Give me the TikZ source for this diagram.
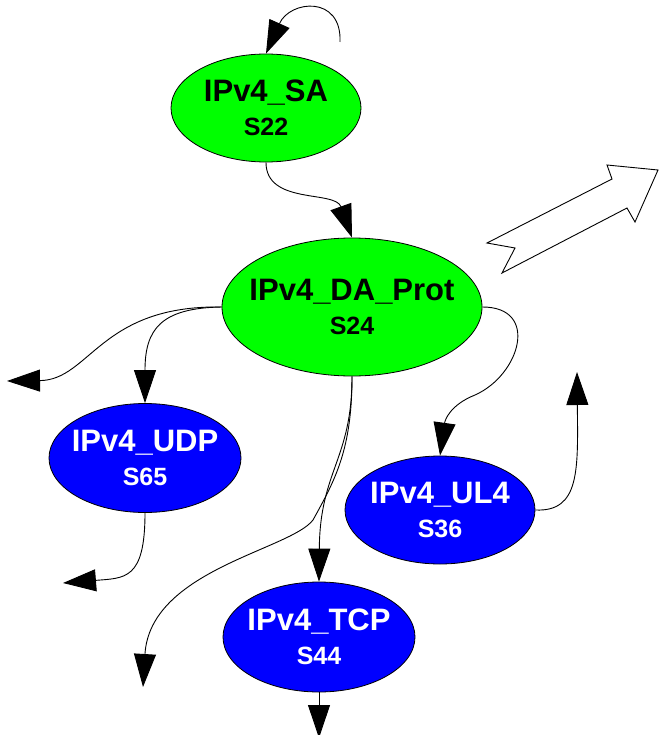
\documentclass[tikz,border=0pt]{standalone}
\usepackage{fontspec}
\setmainfont{Liberation Sans}
\usetikzlibrary{shapes.geometric,arrows.meta}

\tikzset{
  state/.style={ellipse, draw=black, line width=0.8pt, inner sep=0pt, align=center,
    font=\bfseries\fontsize{31}{34}\selectfont},
  upper/.style={state, fill=green, text=black},
  lower/.style={state, fill=blue, text=white},
  edge/.style={black, line width=0.9pt, -{Triangle[length=33pt,width=22pt]}},
}
% zero-width lines, so the ellipse keeps its given size
\newcommand{\statelabel}[2]{\makebox[0pt]{#1}\\\makebox[0pt]{\fontsize{25}{34}\selectfont #2}}

\begin{document}
\begin{tikzpicture}[x=1pt, y=-1pt]
	  \useasboundingbox (0,0) rectangle (659,735);
	  % states
	  \node[upper, minimum width=190pt, minimum height=108pt] (SA) at (266,108) {\statelabel{IPv4\_SA}{S22}};
	  \node[upper, minimum width=260pt, minimum height=138pt] (DA) at (352,307) {\statelabel{IPv4\_DA\_Prot}{S24}};
	  \node[lower, minimum width=192pt, minimum height=109pt] (UDP) at (145,458) {\statelabel{IPv4\_UDP}{S65}};
	  \node[lower, minimum width=190pt, minimum height=108pt] (UL4) at (440,510) {\statelabel{IPv4\_UL4}{S36}};
	  \node[lower, minimum width=192pt, minimum height=110pt] (TCP) at (319,637) {\statelabel{IPv4\_TCP}{S44}};
	  % loose ends
	  \coordinate (loopstart) at (340,42);
	  \coordinate (westout) at (7,381);
	  \coordinate (southout) at (143,687);
	  \coordinate (udpout) at (63,583);
	  \coordinate (ulout) at (577,372);
	  \coordinate (tcpout) at (319,738);
	  \coordinate (bend) at (313,520);
	  \coordinate (kink) at (475,395);
	  % transitions
	  \draw[edge] (loopstart) .. controls (342,-5) and (290,0) .. (SA.north);
	  \draw[edge] (SA.south) .. controls (266,205) and (335,190) .. (DA.north);
	  \draw[edge] (DA.west) .. controls (100,305) and (90,380) .. (westout);
	  \draw[edge] (DA.west) .. controls (160,308) and (145,330) .. (UDP.north);
	  \draw[edge] (DA.east) .. controls (540,307) and (520,375) .. (kink) .. controls (450,405) and (445,420) .. (UL4.north);
	  \draw[edge] (DA.south) .. controls (352,460) and (320,470) .. (TCP.north);
	  \draw[edge] (DA.south) .. controls (352,450) and (335,480) .. (bend) .. controls (290,550) and (150,570) .. (southout);
	  \draw[edge] (UDP.south) .. controls (145,580) and (125,578) .. (udpout);
	  \draw[edge] (UL4.east) .. controls (580,512) and (578,470) .. (ulout);
	  \draw[edge] (TCP.south) -- (tcpout);
	  % hollow block arrow
	  \filldraw[black, fill=white, line width=0.9pt] (487,243) -- (612,179) -- (607,165) -- (658,170) -- (635,222) -- (627,208) -- (502,273) -- (515,248) -- cycle;
\end{tikzpicture}
\end{document}
